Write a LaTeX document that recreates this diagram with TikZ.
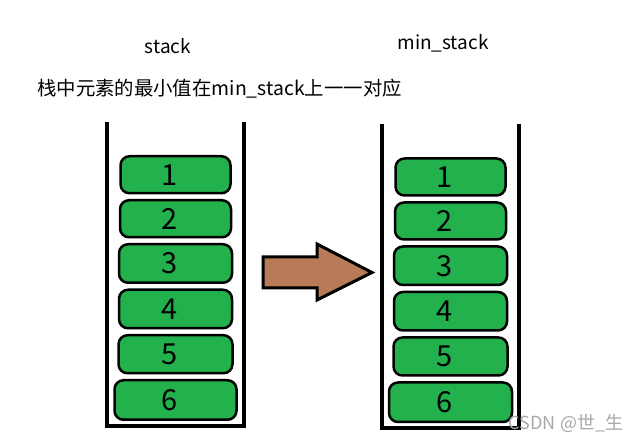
\documentclass[tikz,border=0pt]{standalone}
\usepackage{fontspec}
\newfontfamily\cjk{Noto Sans CJK SC}
\usetikzlibrary{positioning}
\definecolor{elemgreen}{HTML}{22B14C}
\definecolor{arrowbrown}{HTML}{B97A57}
\definecolor{markgray}{HTML}{A8A8A8}
\tikzset{
  elem/.style={
    draw=black,
    line width=2.5pt,
    fill=elemgreen,
    rounded corners=9pt,
    minimum width=111pt,
    minimum height=37pt,
    inner sep=0pt,
    font=\cjk\fontsize{29}{29}\selectfont,
    execute at begin node={\hspace*{-12pt}}
  },
  wall/.style={draw=black, line width=4pt},
  title/.style={font=\cjk\fontsize{19}{19}\selectfont},
  bigarrow/.style={draw=black, line width=3pt, fill=arrowbrown, line join=miter}
}

\begin{document}
\begin{tikzpicture}[x=1pt, y=-1pt, node distance=4.5pt]
  \useasboundingbox (0,0) rectangle (641,443);

  % Titles
  \node[title] (stacktitle) at (168,46) {stack};
  \node[title] (mintitle) at (443,43) {min\_stack};
  \node[title, font=\cjk\fontsize{19.4}{19.4}\selectfont, anchor=west, inner sep=0pt] (note) at (37,89) {栈中元素的最小值在min\_stack上一一对应};

  % Containers
  \draw[wall] (106.5,122) |- (244,426) -- (244,122);
  \draw[wall] (382,124) |- (519,428) -- (519,124);

  % stack
  \node[elem, minimum width=110pt] (s1) at (175.5,174.75) {1};
  \node[elem, below=of s1] (s2) {2};
  \node[elem, below=of s2, minimum width=113pt, minimum height=38.5pt] (s3) {3};
  \node[elem, below=of s3, minimum width=113pt, minimum height=38.5pt] (s4) {4};
  \node[elem, below=of s4, minimum width=114pt, minimum height=38pt] (s5) {5};
  \node[elem, below=of s5, minimum width=122pt, minimum height=39.5pt] (s6) {6};

  % min_stack
  \node[elem, minimum width=110pt] (m1) at (450.5,177) {1};
  \node[elem, below=of m1] (m2) {2};
  \node[elem, below=of m2, minimum width=113pt, minimum height=38.5pt] (m3) {3};
  \node[elem, below=of m3, minimum width=113pt, minimum height=38.5pt] (m4) {4};
  \node[elem, below=of m4, minimum width=114pt, minimum height=38pt] (m5) {5};
  \node[elem, below=of m5, minimum width=123pt, minimum height=39.5pt] (m6) {6};

  % Arrow
  \draw[bigarrow] (263,257) -- (317,257) -- (317,244) -- (372,272.5) -- (317,300) -- (317,288) -- (263,288) -- cycle;

  % Watermark
  \node[font=\cjk\fontsize{18}{18}\selectfont, text=markgray, inner sep=0pt] (mark) at (566,423) {CSDN @世\_生};
\end{tikzpicture}
\end{document}
